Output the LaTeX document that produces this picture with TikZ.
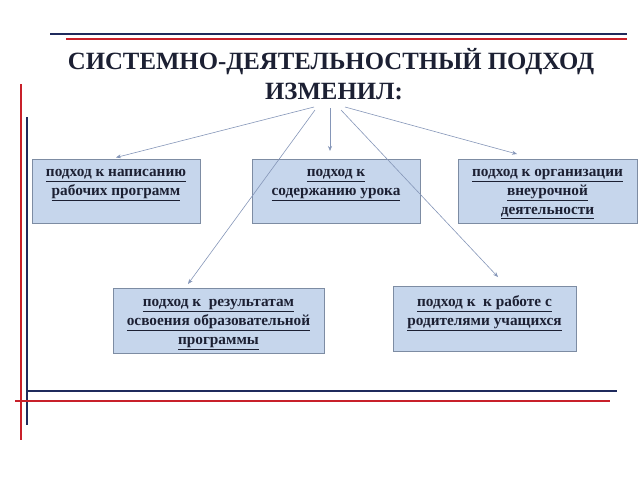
\documentclass[tikz,border=0pt]{standalone}
\usepackage{fontspec}
\setmainfont{Liberation Serif}
\usetikzlibrary{arrows.meta}
\definecolor{navy}{HTML}{1F2A5C}
\definecolor{redl}{HTML}{C8202A}
\definecolor{boxfill}{HTML}{C6D6EC}
\definecolor{boxdraw}{HTML}{7D8CA3}
\definecolor{arrowc}{HTML}{8596B8}
\definecolor{titlec}{HTML}{1C2033}
\tikzset{
  box/.style={draw=boxdraw, fill=boxfill, line width=0.8pt, inner sep=0pt},
  boxtext/.style={align=center, font=\fontsize{15.3}{18.7}\selectfont\bfseries, text=titlec, inner sep=0pt, anchor=north},
  titletext/.style={font=\fontsize{24.8}{30}\selectfont\bfseries, text=titlec, inner sep=0pt, anchor=base},
  conn/.style={draw=arrowc, line width=0.6pt, -{Stealth[length=5pt,width=4pt]}},
  blueline/.style={draw=navy, line width=2.2pt},
  redline/.style={draw=redl, line width=2.2pt}
}
\newcommand{\ul}[1]{\strut\underline{#1}}
\begin{document}
\begin{tikzpicture}[x=1pt,y=-1pt]
\useasboundingbox (0,0) rectangle (640,480);
% frame lines
\draw[blueline] (50,34) -- (627,34);
\draw[redline] (66,39) -- (627,39);
\draw[redline] (21,84) -- (21,440);
\draw[blueline] (27,117) -- (27,425);
\draw[blueline] (27,391) -- (617,391);
\draw[redline] (15,401) -- (610,401);
% title
\node[titletext] (title1) at (331,69.5) {СИСТЕМНО-ДЕЯТЕЛЬНОСТНЫЙ ПОДХОД};
\node[titletext] (title2) at (334,99) {ИЗМЕНИЛ:};
% boxes
\node[box, minimum width=168pt, minimum height=64pt] (b1) at (116,191) {};
\node[box, minimum width=168pt, minimum height=64pt] (b2) at (336,191) {};
\node[box, minimum width=179pt, minimum height=64pt] (b3) at (547.5,191) {};
\node[box, minimum width=211pt, minimum height=65pt] (b4) at (218.5,320.5) {};
\node[box, minimum width=183pt, minimum height=65pt] (b5) at (484.5,318.5) {};
% texts
\node[boxtext] (t1) at (116,163.5) {\ul{подход к написанию}\\\ul{рабочих программ}};
\node[boxtext] (t2) at (336,163.5) {\ul{подход к}\\\ul{содержанию урока}};
\node[boxtext] (t3) at (547.5,163.5) {\ul{подход к организации}\\\ul{внеурочной}\\\ul{деятельности}};
\node[boxtext] (t4) at (218.5,293.5) {\ul{подход к\ \ результатам}\\\ul{освоения образовательной}\\\ul{программы}};
\node[boxtext] (t5) at (484.5,293.5) {\ul{подход к\ \ к работе с}\\\ul{родителями учащихся}};
% connector ends
\coordinate (s1) at (314,107);
\coordinate (s2) at (330,108);
\coordinate (s3) at (345,107);
\coordinate (s4) at (315,110);
\coordinate (s5) at (341,110);
\coordinate (e1) at (116,157.5);
\coordinate (e2) at (330,151);
\coordinate (e3) at (517,154);
\coordinate (e4) at (188,284);
\coordinate (e5) at (498,277);
\draw[conn] (s1) -- (e1);
\draw[conn] (s2) -- (e2);
\draw[conn] (s3) -- (e3);
\draw[conn] (s4) -- (e4);
\draw[conn] (s5) -- (e5);
\end{tikzpicture}
\end{document}
